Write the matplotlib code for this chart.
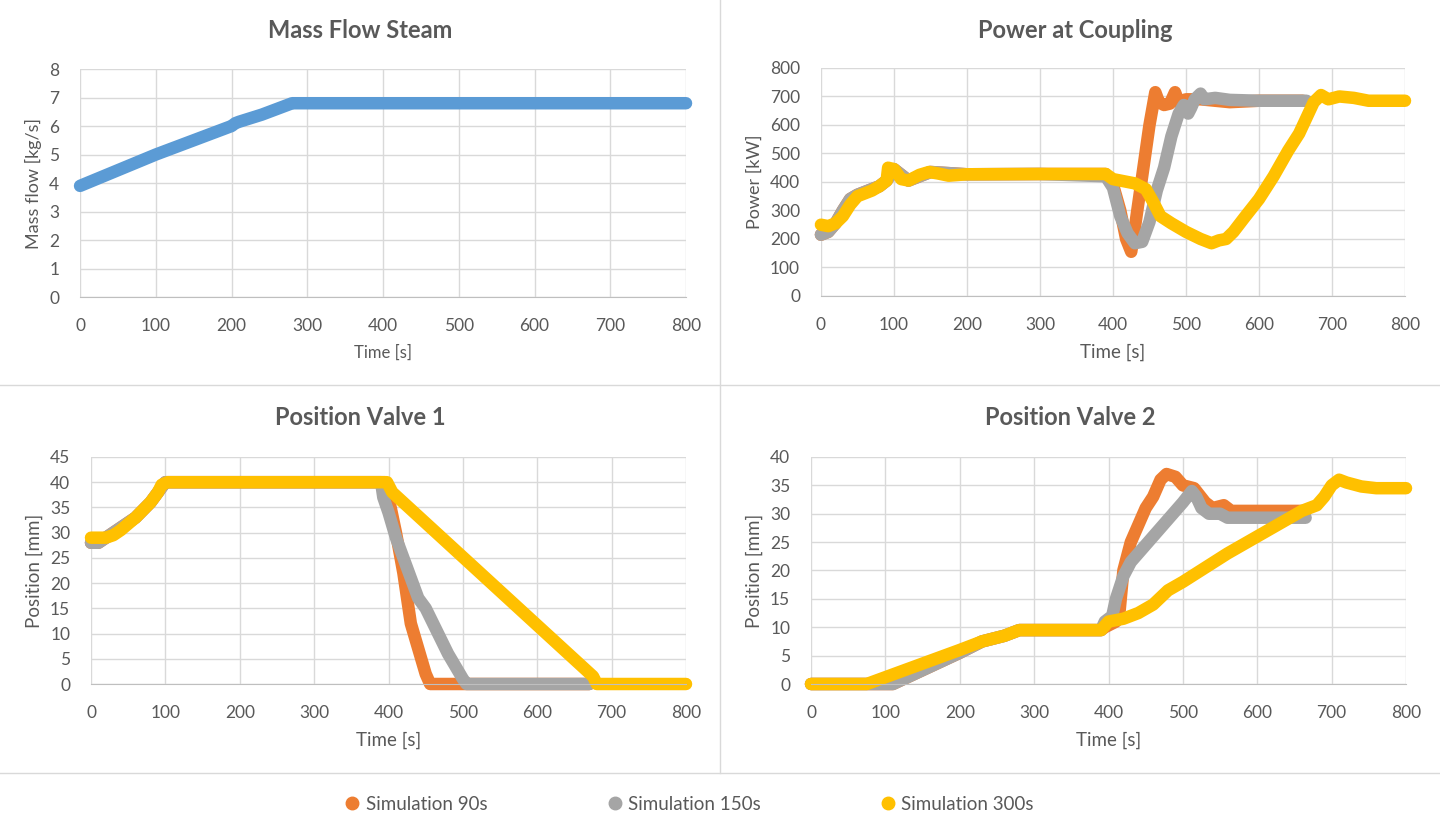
import matplotlib
matplotlib.use("Agg")
import matplotlib.pyplot as plt
from matplotlib.lines import Line2D

plt.rcParams["font.family"] = ["Lato", "DejaVu Sans"]

# ---- data ----
t_mf = [0, 50, 100, 150, 200, 205, 210, 240, 275, 280, 400, 600, 800]
mass_flow = [3.9, 4.45, 5.0, 5.5, 6.0, 6.1, 6.15, 6.4, 6.75, 6.8, 6.8, 6.8, 6.8]

t_p90 = [0, 10, 20, 30, 40, 50, 60, 80, 90, 100, 120, 150, 200, 300, 390, 400, 410, 418, 425,
         430, 440, 450, 458, 463, 470, 478, 485, 490, 500, 520, 560, 600, 660]
p90 = [215, 225, 255, 300, 340, 355, 365, 385, 405, 445, 405, 435, 427, 428, 428, 390, 300, 200, 155,
       240, 420, 600, 715, 680, 670, 675, 715, 680, 690, 690, 680, 685, 685]
t_p150 = [0, 10, 20, 30, 40, 50, 60, 80, 90, 100, 120, 150, 200, 300, 390, 400, 410, 420, 430, 440,
          450, 460, 470, 480, 490, 497, 503, 507, 512, 520, 525, 540, 560, 600, 665]
p150 = [215, 225, 255, 300, 340, 355, 365, 385, 405, 445, 405, 435, 427, 428, 420, 380, 280, 220, 185, 190,
        260, 370, 450, 560, 640, 670, 640, 660, 690, 710, 690, 695, 688, 685, 685]
t_p300 = [0, 10, 20, 30, 40, 50, 60, 70, 80, 90, 92, 100, 110, 120, 135, 148, 160, 175, 200, 300, 390,
          400, 430, 445, 455, 465, 480, 500, 520, 535, 545, 555, 565, 580, 600, 620, 640, 655, 665,
          675, 685, 695, 710, 730, 750, 800]
p300 = [250, 245, 255, 280, 320, 350, 360, 370, 385, 405, 450, 445, 410, 405, 425, 435, 430, 422, 427, 428, 428,
        410, 395, 375, 330, 280, 255, 225, 200, 185, 195, 200, 225, 275, 340, 420, 510, 570, 625,
        680, 705, 690, 700, 695, 685, 685]

t_v1_90 = [0, 10, 20, 40, 60, 80, 90, 100, 105, 395, 400, 410, 420, 430, 440, 450, 456, 500, 670]
v1_90 = [28, 28, 29, 31, 33, 36, 38, 40, 40, 40, 37, 30, 22, 12, 7, 2, 0, 0, 0]
t_v1_150 = [0, 10, 20, 40, 60, 80, 90, 100, 105, 390, 393, 400, 410, 420, 430, 440, 450, 460, 480, 500, 505, 670]
v1_150 = [28, 28, 29, 31, 33, 36, 38, 40, 40, 40, 37, 34, 29, 25, 21, 17, 15, 12, 6, 1, 0, 0]
t_v1_300 = [0, 20, 30, 40, 60, 80, 90, 95, 103, 398, 405, 675, 680, 800]
v1_300 = [29, 29, 29.5, 30.5, 33, 36, 38, 39.5, 40, 40, 38, 1.5, 0, 0]

t_v2_90 = [0, 110, 200, 230, 260, 280, 390, 395, 410, 415, 420, 430, 440, 450, 460, 470, 478, 490,
           500, 515, 530, 540, 555, 565, 600, 665]
v2_90 = [0, 0, 5.5, 7.5, 8.5, 9.5, 9.5, 10, 11, 13, 20, 25, 28, 31, 33, 36, 37, 36.5,
         35, 34.5, 32, 31, 31.5, 30.5, 30.5, 30.5]
t_v2_150 = [0, 110, 200, 230, 260, 280, 390, 395, 405, 410, 420, 430, 440, 460, 480, 500, 512, 518,
            525, 535, 550, 560, 600, 665]
v2_150 = [0, 0, 5.5, 7.5, 8.5, 9.5, 9.5, 11, 12, 15, 19, 21.5, 23, 26, 29, 32, 34, 33,
          31, 30, 30, 29.3, 29.3, 29.3]
t_v2_300 = [0, 75, 200, 230, 260, 280, 390, 400, 420, 440, 460, 480, 500, 530, 560, 600, 640, 660,
            680, 690, 700, 710, 720, 740, 760, 800]
v2_300 = [0, 0, 6, 7.5, 8.5, 9.5, 9.5, 11, 11.5, 12.5, 14, 16.5, 18, 20.5, 23, 26, 29, 30.5,
          31.5, 33, 35, 36, 35.5, 34.8, 34.5, 34.5]

labels = ["Simulation 90s", "Simulation 150s", "Simulation 300s"]
colors = ["#ED7D31", "#A5A5A5", "#FFC000"]
TXT = "#595959"
LW = 9


def style(ax, ymax, ystep, ylabel, xfs=13.5, yfs=13.5):
    ax.set_xlim(0, 800)
    ax.set_ylim(0, ymax)
    ax.set_xticks(range(0, 801, 100))
    ax.set_yticks(range(0, ymax + 1, ystep))
    ax.grid(True, color="#D9D9D9", linewidth=1)
    ax.set_axisbelow(True)
    for s in ["top", "right", "left"]:
        ax.spines[s].set_visible(False)
    ax.spines["bottom"].set_color("#BFBFBF")
    ax.tick_params(axis="x", length=0, labelsize=12.5, colors=TXT, pad=15)
    ax.tick_params(axis="y", length=0, labelsize=12.5, colors=TXT, pad=15)
    ax.set_xlabel("Time [s]", fontsize=xfs, color=TXT, labelpad=8)
    ax.set_ylabel(ylabel, fontsize=yfs, color=TXT, labelpad=5)


def draw(ax, x, y, c):
    ax.plot(x, y, color=c, linewidth=LW, solid_capstyle="round",
            solid_joinstyle="round", clip_on=False)


fig = plt.figure(figsize=(14.4, 8.14), dpi=100)

ax1 = fig.add_axes([0.0556, 0.6351, 0.4208, 0.2801])
draw(ax1, t_mf, mass_flow, "#5B9BD5")
style(ax1, 8, 1, "Mass flow [kg/s]", xfs=12, yfs=13)

ax2 = fig.add_axes([0.5701, 0.6364, 0.4056, 0.2801])
for x, y, c in zip([t_p90, t_p150, t_p300], [p90, p150, p300], colors):
    draw(ax2, x, y, c)
style(ax2, 800, 100, "Power [kW]", yfs=13)

ax3 = fig.add_axes([0.0632, 0.1597, 0.4132, 0.2789])
for x, y, c in zip([t_v1_90, t_v1_150, t_v1_300], [v1_90, v1_150, v1_300], colors):
    draw(ax3, x, y, c)
style(ax3, 45, 5, "Position [mm]")

ax4 = fig.add_axes([0.5632, 0.1597, 0.4132, 0.2789])
for x, y, c in zip([t_v2_90, t_v2_150, t_v2_300], [v2_90, v2_150, v2_300], colors):
    draw(ax4, x, y, c)
style(ax4, 40, 5, "Position [mm]")

# panel titles
for x, y, s in [(0.25, 0.963, "Mass Flow Steam"), (0.7465, 0.963, "Power at Coupling"),
                (0.25, 0.4877, "Position Valve 1"), (0.743, 0.4877, "Position Valve 2")]:
    fig.text(x, y, s, ha="center", va="center", fontsize=17, fontweight="bold", color=TXT)

# panel dividers
div = "#D9D9D9"
fig.add_artist(Line2D([0.5, 0.5], [1 - 773 / 814, 1], color=div, lw=1))
fig.add_artist(Line2D([0, 1], [1 - 385 / 814, 1 - 385 / 814], color=div, lw=1))
fig.add_artist(Line2D([0, 1], [1 - 773 / 814, 1 - 773 / 814], color=div, lw=1))

handles = [Line2D([], [], marker="o", linestyle="none", color=c, markersize=9) for c in colors]
fig.legend(handles, labels, loc="center", bbox_to_anchor=(0.478, 1 - 804 / 814), ncol=3,
           frameon=False, fontsize=13.5, labelcolor=TXT, handlelength=1, handletextpad=0.2,
           columnspacing=6.3)

fig.savefig("out.png", dpi=100)
